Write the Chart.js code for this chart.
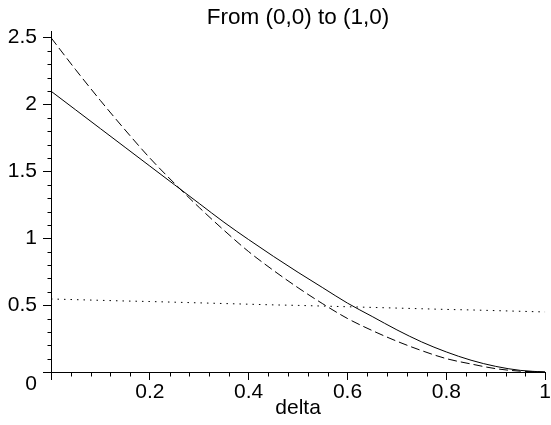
<!DOCTYPE html>
<html>
<head>
<meta charset="utf-8">
<script src="https://cdn.jsdelivr.net/npm/chart.js@4/dist/chart.umd.min.js"></script>
<style>
  html, body { margin: 0; padding: 0; background: #fff; }
  #wrap { width: 551px; height: 425px; }
</style>
</head>
<body>
<div id="wrap"><canvas id="plot" width="551" height="425"></canvas></div>
<script>
const deltaValues = [0, 0.05, 0.1, 0.15, 0.2, 0.25, 0.3, 0.35, 0.4, 0.45, 0.5,
  0.55, 0.6, 0.65, 0.7, 0.75, 0.8, 0.85, 0.9, 0.95, 1];
const solidValues = [2.10, 1.96, 1.82, 1.68, 1.54, 1.40, 1.26, 1.12, 0.99, 0.865, 0.745,
  0.63, 0.515, 0.415, 0.315, 0.225, 0.15, 0.088, 0.042, 0.012, 0];
const dashedValues = [2.50, 2.26, 2.03, 1.81, 1.60, 1.41, 1.23, 1.06, 0.90, 0.76, 0.63,
  0.51, 0.40, 0.31, 0.23, 0.16, 0.10, 0.06, 0.025, 0.006, 0];
const dottedValues = [0.546, 0.541, 0.536, 0.531, 0.527, 0.522, 0.517, 0.512, 0.507, 0.502, 0.498,
  0.493, 0.488, 0.483, 0.478, 0.473, 0.468, 0.464, 0.459, 0.454, 0.449];

const xTickValues = [0, 0.2, 0.4, 0.6, 0.8, 1];
const yTickValues = [0, 0.5, 1, 1.5, 2, 2.5];
const xMinorCount = 25;   // minor marks every 0.04
const yMinorCount = 25;   // minor marks every 0.1
const titleText = "From (0,0) to (1,0)";
const xLabel = "delta";

const FONT = "'Liberation Sans', Arial, Helvetica, sans-serif";
const INK = "#000";

function toPoints(values) {
  return deltaValues.map((d, i) => ({ x: d, y: values[i] }));
}

function lineSet(values, dash) {
  return {
    data: toPoints(values),
    borderColor: INK,
    borderWidth: 1,
    borderDash: dash,
    pointRadius: 0,
    fill: false,
    cubicInterpolationMode: "monotone",
  };
}

// small unlabeled ticks between the labelled ones
const minorTicks = {
  id: "minorTicks",
  afterDraw(chart) {
    const ctx = chart.ctx;
    const xs = chart.scales.x;
    const ys = chart.scales.y;
    const xAxisY = Math.round(ys.getPixelForValue(0)) + 0.5;
    const yAxisX = Math.round(xs.getPixelForValue(0)) + 0.5;
    ctx.save();
    ctx.strokeStyle = INK;
    ctx.lineWidth = 1;
    ctx.beginPath();
    for (let i = 1; i < xMinorCount; i++) {
      if (i % 5 === 0) continue;
      const px = Math.round(xs.getPixelForValue(i / xMinorCount)) + 0.5;
      ctx.moveTo(px, xAxisY);
      ctx.lineTo(px, xAxisY + 4);
    }
    for (let i = 1; i < yMinorCount; i++) {
      if (i % 5 === 0) continue;
      const py = Math.round(ys.getPixelForValue(i / 10)) + 0.5;
      ctx.moveTo(yAxisX, py);
      ctx.lineTo(yAxisX - 4, py);
    }
    ctx.stroke();
    ctx.restore();
  },
};

new Chart(document.getElementById("plot"), {
  type: "line",
  data: {
    datasets: [
      lineSet(solidValues, []),
      lineSet(dashedValues, [9, 4]),
      lineSet(dottedValues, [1.5, 5]),
    ],
  },
  options: {
    responsive: false,
    animation: false,
    layout: { padding: { left: 0, right: 5, top: 0, bottom: 0 } },
    plugins: {
      legend: { display: false },
      tooltip: { enabled: false },
      title: {
        display: true,
        fullSize: false,
        text: titleText,
        color: INK,
        font: { family: FONT, size: 22.5, weight: "normal" },
        padding: { top: 4, bottom: 0 },
      },
    },
    scales: {
      x: {
        type: "linear",
        min: 0,
        max: 1,
        afterBuildTicks: (scale) => { scale.ticks = xTickValues.map((v) => ({ value: v })); },
        afterFit: (scale) => { scale.height = 53; },
        border: { display: true, color: INK, width: 1 },
        grid: { drawOnChartArea: false, drawTicks: true, tickLength: 8, color: INK },
        ticks: {
          color: INK,
          padding: 0,
          maxRotation: 0,
          font: { family: FONT, size: 21 },
          callback: (v) => (v === 0 ? "" : String(v)),
        },
        title: {
          display: true,
          text: xLabel,
          color: INK,
          font: { family: FONT, size: 21 },
          padding: { top: 0, bottom: 4 },
        },
      },
      y: {
        type: "linear",
        min: 0,
        max: 2.55,
        afterBuildTicks: (scale) => { scale.ticks = yTickValues.map((v) => ({ value: v })); },
        afterFit: (scale) => { scale.width = 51; },
        border: { display: true, color: INK, width: 1 },
        grid: { drawOnChartArea: false, drawTicks: true, tickLength: 8, color: INK },
        ticks: {
          color: INK,
          padding: 6,
          font: { family: FONT, size: 21 },
          callback: (v) => (v === 0 ? ["", "0"] : String(v)),
        },
      },
    },
  },
  plugins: [minorTicks],
});
</script>
</body>
</html>
